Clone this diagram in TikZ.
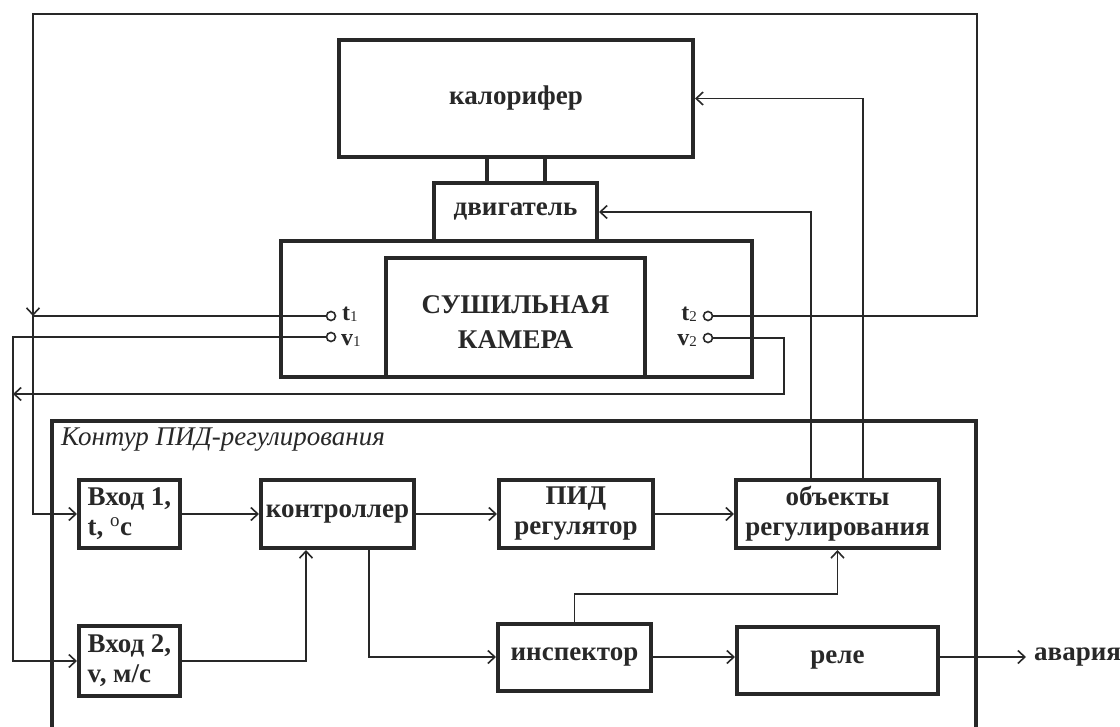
\documentclass[tikz,border=0pt]{standalone}
\usepackage{fontspec}
\setmainfont{Liberation Serif}
\usetikzlibrary{arrows.meta}
\definecolor{ink}{RGB}{40,40,40}
\begin{document}
\begin{tikzpicture}[x=1pt,y=-1pt,
  box/.style={draw=ink, line width=4pt, inner sep=0pt, align=center, text=ink,
    font=\bfseries\fontsize{27}{30}\selectfont},
  frame/.style={draw=ink, line width=4pt},
  wire/.style={draw=ink, line width=1.6pt},
  link/.style={draw=ink, line width=4pt},
  arr/.style={wire, -{Straight Barb[length=7pt,width=13pt,line width=1.6pt]}},
  term/.style={circle, draw=ink, line width=1.6pt, minimum size=9pt, inner sep=0pt, fill=white},
  lab/.style={text=ink, inner sep=0pt, font=\bfseries\fontsize{27}{30}\selectfont},
  tlab/.style={text=ink, inner sep=0pt, font=\bfseries\fontsize{24}{24}\selectfont},
]
\useasboundingbox (0,0) rectangle (1120,727);

% upper plant
\node[box, minimum width=354pt, minimum height=117pt] (kal) at (516,98.5) {калорифер};
\node[box, minimum width=163pt, minimum height=58pt] (dvig) at (515.5,212) {двигатель};
\node[box, minimum width=471pt, minimum height=136pt] (cham) at (516.5,309) {};
\node[box, minimum width=259pt, minimum height=119pt] (cam) at (515.5,317.5) {};
\node[lab, align=center, font=\bfseries\fontsize{27}{35}\selectfont] (camt) at (515.5,322) {СУШИЛЬНАЯ\\КАМЕРА};

\draw[link] ([xshift=-29pt]kal.south) -- ([xshift=-29pt]kal.south |- dvig.north);
\draw[link] ([xshift=29pt]kal.south) -- ([xshift=29pt]kal.south |- dvig.north);

% terminals
\node[term] (t1) at (331,316) {};
\node[term] (v1) at (331,337) {};
\node[term] (t2) at (708,316) {};
\node[term] (v2) at (708,338) {};
\node[tlab, anchor=west] (t1l) at (342,314) {t{\mdseries\fontsize{15}{15}\selectfont\raisebox{-1pt}{1}}};
\node[tlab, anchor=west] (v1l) at (341,340) {v{\mdseries\fontsize{15}{15}\selectfont\raisebox{-1pt}{1}}};
\node[tlab, anchor=east] (t2l) at (697,314) {t{\mdseries\fontsize{15}{15}\selectfont\raisebox{-1pt}{2}}};
\node[tlab, anchor=east] (v2l) at (697,340) {v{\mdseries\fontsize{15}{15}\selectfont\raisebox{-1pt}{2}}};

% PID frame
\draw[frame] (52,727) -- (52,421) -- (976,421) -- (976,727);
\node[anchor=west, inner sep=0pt, text=ink, font=\itshape\fontsize{27}{27}\selectfont] (title) at (61,440) {Контур ПИД-регулирования};

% lower blocks
\node[box, minimum width=101pt, minimum height=68pt, align=left] (in1) at (129.5,514) {Вход 1,\\t, \textsuperscript{\mdseries o}c};
\node[box, minimum width=153pt, minimum height=68pt] (ctrl) at (337.5,514) {контроллер};
\node[box, minimum width=154pt, minimum height=68pt] (pid) at (576,514) {ПИД\\регулятор};
\node[box, minimum width=203pt, minimum height=68pt] (obj) at (837.5,514) {объекты\\регулирования};
\node[box, minimum width=101pt, minimum height=70pt, align=left] (in2) at (129.5,661) {Вход 2,\\v, м/с};
\node[box, minimum width=153pt, minimum height=67pt] (insp) at (574.5,657) {инспектор};
\node[box, minimum width=201pt, minimum height=67pt] (rele) at (837.5,660.5) {реле};
\node[lab, anchor=west] (ava) at (1034,657) {авария};

% junction coordinates
\coordinate (jt) at (33,316);
\coordinate (jv) at (13,394);
\coordinate (topR) at (977,14);
\coordinate (v2c) at (784,394);
\coordinate (mid) at (0,594);
\coordinate (avaIn) at (1026,657);

% feedback wiring
\draw[arr] (t2.east) -| (topR) -| (jt);
\draw[arr] (t1.west) -- (jt) |- (in1.west);
\draw[arr] (v1.west) -| (jv) |- (in2.west);
\draw[arr] (v2.east) -| (v2c) -- (jv);

% control chain
\draw[arr] (in1) -- (ctrl);
\draw[arr] (ctrl) -- (pid);
\draw[arr] (pid) -- (obj);
\draw[arr] (in2.east) -| ([xshift=-31.5pt]ctrl.south);
\draw[arr] ([xshift=31.5pt]ctrl.south) |- (insp.west);
\draw[arr] (insp.north) |- (mid -| obj.south) -- (obj.south);
\draw[arr] (insp.east) -- (insp.east -| rele.west);
\draw[arr] (insp.east -| rele.east) -- (avaIn);
\draw[arr] ([xshift=-26.5pt]obj.north) |- (dvig.east);
\draw[arr] ([xshift=25.5pt]obj.north) |- (kal.east);
\end{tikzpicture}
\end{document}
